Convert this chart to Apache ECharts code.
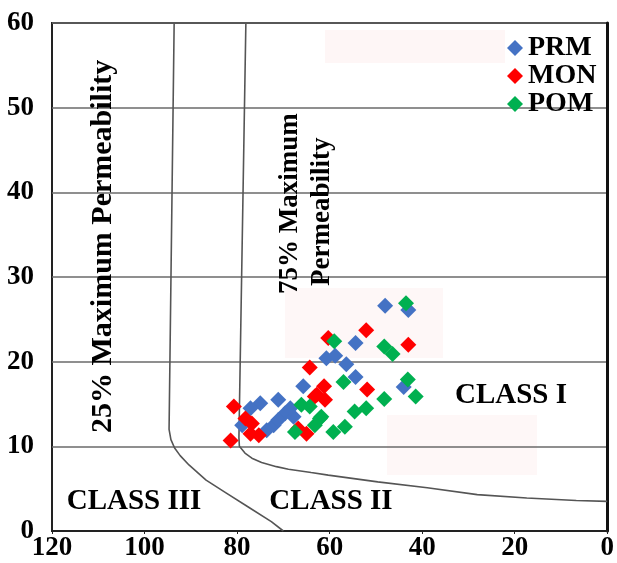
<!DOCTYPE html>
<html><head><meta charset="utf-8">
<script src="https://cdn.jsdelivr.net/npm/echarts@6/dist/echarts.min.js"></script>
<style>html,body{margin:0;padding:0;background:#fff}#c{width:617px;height:563px}</style>
</head><body><div id="c"></div>
<script>
// ----- data -----
const seriesNames = ['PRM', 'MON', 'POM'];
const seriesColors = ['#4472C4', '#FF0000', '#00B050'];
const xTicks = [120, 100, 80, 60, 40, 20, 0];
const yTicks = [0, 10, 20, 30, 40, 50, 60];

const prm = [[48.0,26.6],[43.0,26.1],[54.4,22.2],[60.7,20.4],[58.8,20.7],[56.4,19.7],[54.4,18.2],
  [65.7,17.1],[44.0,17.0],[75.0,15.1],[77.1,14.5],[71.1,15.5],[69.6,13.9],[67.8,13.5],[72.1,12.5],
  [71.1,13.1],[78.9,12.5],[73.6,11.9],[68.5,14.5]];
const mon = [[52.1,23.7],[60.3,22.8],[43.0,22.0],[64.3,19.3],[61.2,17.1],[51.9,16.7],[62.8,16.1],
  [61.0,15.5],[80.7,14.7],[81.4,10.7],[76.8,12.7],[75.3,11.3],[77.1,11.5],[65.0,11.5],[66.8,12.1],
  [63.2,15.9],[78.2,13.3]];
const pom = [[43.5,26.9],[59.0,22.4],[48.2,21.8],[46.4,20.9],[43.1,17.9],[41.4,15.9],[48.2,15.6],
  [57.0,17.6],[52.1,14.5],[54.6,14.1],[66.1,14.9],[64.3,14.7],[61.8,13.5],[63.2,12.5],[56.7,12.3],
  [59.2,11.7],[67.5,11.7],[62.1,13.3]];

const curve25 = [[93.6,60],[94.7,12],[94.3,10.8],[93.5,9.8],[92.3,8.9],[90.4,7.8],[86.7,6.0],
  [82.4,4.5],[77.5,2.8],[72.6,1.1],[70.0,0]];
const curve75 = [[78.1,60],[79.6,11],[79.5,10.0],[78.3,9.2],[76.8,8.6],[74.7,8.1],[71.5,7.6],
  [68.9,7.3],[64.0,6.9],[60.3,6.6],[49.6,5.8],[38.9,5.1],[28.1,4.3],[17.4,3.9],[6.7,3.6],[0,3.5]];

const serif = '"Liberation Serif", "Times New Roman", serif';

const chart = echarts.init(document.getElementById('c'), null, {renderer: 'canvas'});
const pointSets = [prm, mon, pom];

const option = {
  backgroundColor: '#fff',
  animation: false,
  grid: {left: 52, right: 6, top: 23, bottom: 32, show: true, borderColor: '#222', borderWidth: 2, backgroundColor: 'transparent'},
  legend: {
    data: seriesNames.map(n => ({name: n, icon: 'diamond'})),
    orient: 'vertical', left: 507, top: 34, padding: 0, itemGap: 0,
    itemWidth: 16, itemHeight: 16,
    textStyle: {fontFamily: serif, fontWeight: 'bold', fontSize: 28, color: '#000', lineHeight: 22}
  },
  xAxis: {
    type: 'value', inverse: true, min: 0, max: 120, interval: 20,
    axisLine: {show: true, lineStyle: {color: '#222', width: 2}},
    axisTick: {show: true, length: 3, lineStyle: {color: '#222'}},
    splitLine: {show: false},
    axisLabel: {fontFamily: serif, fontWeight: 'bold', fontSize: 27, color: '#000', margin: 4,
      formatter: v => xTicks.includes(v) ? String(v) : ''}
  },
  yAxis: {
    type: 'value', min: 0, max: 60, interval: 10,
    axisLine: {show: true, lineStyle: {color: '#111', width: 3}},
    axisTick: {show: false},
    splitLine: {show: true, lineStyle: {color: '#6a6a6a', width: 1.5}},
    axisLabel: {fontFamily: serif, fontWeight: 'bold', fontSize: 27, color: '#000', margin: 18,
      formatter: v => yTicks.includes(v) ? String(v) : ''}
  },
  graphic: [
    {type: 'rect', z: -10, shape: {x: 325, y: 30, width: 180, height: 33}, style: {fill: '#fef6f6'}},
    {type: 'rect', z: -10, shape: {x: 285, y: 288, width: 158, height: 70}, style: {fill: '#fef7f7'}},
    {type: 'rect', z: -10, shape: {x: 387, y: 415, width: 150, height: 60}, style: {fill: '#fef7f7'}},
    {type: 'text', x: 103, y: 433, rotation: Math.PI / 2, z: 5,
      style: {text: '25% Maximum Permeability', font: 'bold 30px ' + serif, fill: '#000', textAlign: 'left', textVerticalAlign: 'middle'}},
    {type: 'text', x: 290, y: 294, rotation: Math.PI / 2, z: 5,
      style: {text: '75% Maximum', font: 'bold 27px ' + serif, fill: '#000', textAlign: 'left', textVerticalAlign: 'middle'}},
    {type: 'text', x: 322, y: 286, rotation: Math.PI / 2, z: 5,
      style: {text: 'Permeability', font: 'bold 27px ' + serif, fill: '#000', textAlign: 'left', textVerticalAlign: 'middle'}},
    {type: 'text', x: 511, y: 396, z: 5,
      style: {text: 'CLASS I', font: 'bold 29px ' + serif, fill: '#000', textAlign: 'center', textVerticalAlign: 'middle'}},
    {type: 'text', x: 331, y: 502, z: 5,
      style: {text: 'CLASS II', font: 'bold 29px ' + serif, fill: '#000', textAlign: 'center', textVerticalAlign: 'middle'}},
    {type: 'text', x: 134, y: 502, z: 5,
      style: {text: 'CLASS III', font: 'bold 29px ' + serif, fill: '#000', textAlign: 'center', textVerticalAlign: 'middle'}}
  ],
  series: [
    {type: 'line', name: '25%', data: curve25, showSymbol: false, silent: true, z: 1,
      lineStyle: {color: '#555', width: 1.6}},
    {type: 'line', name: '75%', data: curve75, showSymbol: false, silent: true, z: 1,
      lineStyle: {color: '#555', width: 1.6}}
  ].concat(seriesNames.map((n, i) => ({
    type: 'scatter', name: n, data: pointSets[i], symbol: 'diamond', symbolSize: 16, z: 3,
    itemStyle: {color: seriesColors[i], opacity: 1}
  })))
};
chart.setOption(option);
</script>
</body></html>
